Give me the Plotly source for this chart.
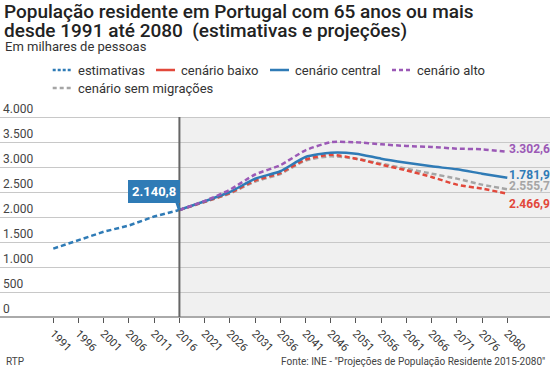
import plotly.graph_objects as go

years = [1991, 1996, 2001, 2006, 2011, 2016, 2021, 2026, 2031, 2036, 2041, 2046,
         2051, 2056, 2061, 2066, 2071, 2076, 2080]
est_years = [1991, 1996, 2001, 2006, 2011, 2016]
estimativas = [1368, 1530, 1705, 1830, 2010, 2140.8]
proj_years = [2016, 2021, 2026, 2031, 2036, 2041, 2046, 2051, 2056, 2061, 2066, 2071, 2076, 2080]
baixo = [2140.8, 2305, 2480, 2730, 2880, 3150, 3247, 3167, 3047, 2933, 2800, 2647, 2567, 2466.9]
central = [2140.8, 2314, 2500, 2765, 2915, 3200, 3287, 3267, 3167, 3087, 3013, 2953, 2867, 2787]
alto = [2140.8, 2320, 2545, 2850, 3035, 3334, 3495, 3495, 3453, 3420, 3400, 3367, 3353, 3302.6]
sem_migr = [2140.8, 2300, 2470, 2710, 2860, 3130, 3213, 3167, 3067, 2967, 2867, 2767, 2647, 2555.7]
end_labels = ["3.302,6", "1.781,9", "2.555,7", "2.466,9"]
callout_label = "2.140,8"
split_year = 2016
y_ticks = [0, 500, 1000, 1500, 2000, 2500, 3000, 3500, 4000]
series_names = ["estimativas", "cenário baixo", "cenário central", "cenário alto", "cenário sem migrações"]

FONT = "Roboto"
C_BLUE = "#2f7bb6"
C_RED = "#e2483b"
C_PURPLE = "#9b59b6"
C_GREY = "#a5a5a5"
DASH = "5px,3px"

W, H = 550, 377
Y_MAX = 4500
B = 317                     # plot area bottom in pixels
T = B - Y_MAX * 0.05        # 0.05 px per unit -> top of plot area
PH = B - T


def py(p):                  # pixel y -> paper y
    return (B - p) / PH


def px_(p):                 # pixel x -> paper x
    return p / W


cat_index = {y: i for i, y in enumerate(years)}
ex = [cat_index[y] for y in est_years]
pxs = [cat_index[y] for y in proj_years]

fig = go.Figure()
fig.add_trace(go.Scatter(x=ex, y=estimativas, name=series_names[0], mode="lines",
                         line=dict(color=C_BLUE, width=2.5, dash=DASH)))
spl = dict(shape="spline", smoothing=0.6)
fig.add_trace(go.Scatter(x=pxs, y=sem_migr, name=series_names[4], mode="lines",
                         line=dict(color=C_GREY, width=2.5, dash=DASH, **spl)))
fig.add_trace(go.Scatter(x=pxs, y=baixo, name=series_names[1], mode="lines",
                         line=dict(color=C_RED, width=2.5, dash=DASH, **spl)))
fig.add_trace(go.Scatter(x=pxs, y=central, name=series_names[2], mode="lines",
                         line=dict(color=C_BLUE, width=2.5, **spl)))
fig.add_trace(go.Scatter(x=pxs, y=alto, name=series_names[3], mode="lines",
                         line=dict(color=C_PURPLE, width=2.5, dash=DASH, **spl)))

split_idx = cat_index[split_year]
xr = [-2.113, 19.693]
fig.add_shape(type="rect", xref="x", yref="y", x0=split_idx, x1=xr[1], y0=0, y1=y_ticks[-1],
              fillcolor="#f0f0f0", line=dict(width=0), layer="below")
fig.add_shape(type="line", xref="x", yref="y", x0=split_idx, x1=split_idx, y0=-90, y1=y_ticks[-1],
              line=dict(color="#666666", width=2), layer="above")

# end labels
last_idx = pxs[-1]
lab_specs = [(alto[-1], end_labels[0], C_PURPLE, 3),
             (central[-1], end_labels[1], C_BLUE, 3),
             (sem_migr[-1], end_labels[2], C_GREY, 3),
             (baixo[-1], end_labels[3], C_RED, -10)]
for yv, txt, col, dy in lab_specs:
    fig.add_annotation(x=last_idx, y=yv, text="<b>" + txt + "</b>", showarrow=False, xanchor="left",
                       yanchor="middle", xshift=0, yshift=dy,
                       font=dict(family=FONT, size=12, color=col))

# callout: tail + box
fig.add_annotation(x=split_idx, y=estimativas[-1], text="", showarrow=True,
                   arrowhead=0, arrowwidth=3, arrowcolor=C_BLUE, ax=-4, ay=-12, standoff=0,
                   axref="pixel", ayref="pixel")
fig.add_annotation(x=split_idx, y=estimativas[-1], text="<b>" + callout_label + "</b>", showarrow=False,
                   xanchor="right", yanchor="bottom", xshift=1, yshift=7,
                   bgcolor=C_BLUE, bordercolor=C_BLUE, borderpad=3,
                   font=dict(family=FONT, size=13, color="white"))

# titles
TF = "Roboto"
fig.add_annotation(xref="paper", yref="paper", x=px_(2), y=py(12), xanchor="left", yanchor="middle",
                   text="População residente em Portugal com 65 anos ou mais", showarrow=False,
                   font=dict(family=TF, size=19, color="#222", weight=500))
fig.add_annotation(xref="paper", yref="paper", x=px_(2), y=py(30), xanchor="left", yanchor="middle",
                   text="desde 1991 até 2080  (estimativas e projeções)", showarrow=False,
                   font=dict(family=TF, size=19, color="#222", weight=500))
fig.add_annotation(xref="paper", yref="paper", x=px_(3), y=py(46.5), xanchor="left", yanchor="middle",
                   text="Em milhares de pessoas", showarrow=False,
                   font=dict(family=FONT, size=13, color="#333"))
fig.add_annotation(xref="paper", yref="paper", x=px_(4), y=py(361), xanchor="left", yanchor="middle",
                   text="RTP", showarrow=False, font=dict(family=FONT, size=10, color="#444"))
fig.add_annotation(xref="paper", yref="paper", x=px_(547), y=py(361), xanchor="right", yanchor="middle",
                   text="Fonte: INE - \"Projeções de População Residente 2015-2080\"", showarrow=False,
                   font=dict(family=FONT, size=10, color="#444"))

# legend (drawn in layout space)
leg_items = [
    (series_names[0], C_BLUE, "3px,2px", 52.7, 70),
    (series_names[1], C_RED, "solid", 156, 70),
    (series_names[2], C_BLUE, "solid", 270, 70),
    (series_names[3], C_PURPLE, "4px,3px", 392, 70),
    (series_names[4], C_GREY, "4px,3px", 52.7, 88),
]
for name, col, dash, x0, yy in leg_items:
    fig.add_shape(type="line", xref="paper", yref="paper", x0=px_(x0), x1=px_(x0 + 19),
                  y0=py(yy), y1=py(yy), line=dict(color=col, width=2.5, dash=dash))
    fig.add_annotation(xref="paper", yref="paper", x=px_(x0 + 23), y=py(yy), xanchor="left",
                       yanchor="middle", text=name, showarrow=False,
                       font=dict(family=FONT, size=13, color="#333"))

fig.update_layout(
    width=W, height=H, margin=dict(l=0, r=0, t=T, b=H - B, pad=0),
    paper_bgcolor="white", plot_bgcolor="white", separators=",.",
    font=dict(family=FONT, color="#333"), showlegend=False,
    xaxis=dict(range=xr, tickmode="array", tickvals=list(range(len(years))),
               ticktext=[str(y) for y in years], tickangle=45, automargin=False,
               ticks="outside", ticklen=5, tickcolor="#555", tickwidth=1, showgrid=False,
               zeroline=False, showline=False, fixedrange=True,
               tickfont=dict(family=FONT, size=11, color="#333")),
    yaxis=dict(range=[0, Y_MAX], tickvals=y_ticks, tickformat=",d", ticklabelposition="inside top",
               ticks="", ticklen=0, automargin=False,
               showgrid=True, gridcolor="#c8c8c8", gridwidth=1, zeroline=True, zerolinecolor="#aaaaaa",
               zerolinewidth=1.5, tickfont=dict(family=FONT, size=12, color="#444"), fixedrange=True),
)

fig.write_html("out.html", config={"displayModeBar": False},
               post_script="document.body.style.margin='0';document.body.style.overflow='hidden';")
